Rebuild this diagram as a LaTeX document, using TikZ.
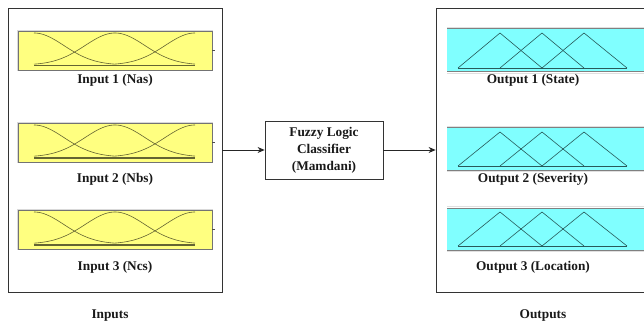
\documentclass[tikz,border=0pt]{standalone}
\usepackage{fontspec}
\setmainfont{Liberation Serif}
\usetikzlibrary{arrows.meta}
\definecolor{ymf}{RGB}{255,255,128}
\definecolor{cmf}{RGB}{128,255,255}
\definecolor{ycurve}{RGB}{100,100,50}
\definecolor{ccurve}{RGB}{40,90,90}
\tikzset{
  x=1pt, y=-1pt,
  frame/.style={draw=black!80, line width=0.8pt, fill=none, inner sep=0pt},
  lbl/.style={font=\fontsize{13.3}{17}\selectfont\bfseries, text=black!90, inner sep=0pt, align=center},
  yellowpanel/.style={fill=ymf, draw=black!55, line width=0.9pt},
  panelshadow/.style={draw=black!15, line width=2.5pt},
  mfy/.style={draw=ycurve, line width=0.6pt},
  mfc/.style={draw=ccurve, line width=0.6pt},
  conn/.style={draw=black!85, line width=0.8pt, -{Stealth[length=7pt,width=6pt]}},
}
\begin{document}
\begin{tikzpicture}
\useasboundingbox (0,0) rectangle (644,323);
\clip (0,0) rectangle (644,323);
\fill[white] (0,0) rectangle (644,323);
% main boxes
\node[frame, minimum width=214pt, minimum height=284pt] (inbox) at (115,150) {};
\node[frame, minimum width=218pt, minimum height=284pt] (outbox) at (545,150) {};
\node[frame, minimum width=118pt, minimum height=58pt, lbl] (fls) at (324,150) {Fuzzy Logic\\Classifier\\(Mamdani)};
% input panels
\foreach \t in {31, 123, 210}{
  \draw[panelshadow] (18,\t) rectangle (212,\t+39);
  \path[yellowpanel] (18,\t) rectangle (212,\t+39);
  \draw[mfy] (34,\t+34) -- (195,\t+34);
  \draw[mfy] (34,\t+34.8) -- (195,\t+34.8);
  \draw[mfy, domain=34:115, samples=40, smooth] plot (\x, {\t+34-32*exp(-((\x-34)^2)/1800)});
  \draw[mfy, domain=34:195, samples=60, smooth] plot (\x, {\t+34-32*exp(-((\x-115)^2)/1800)});
  \draw[mfy, domain=115:195, samples=40, smooth] plot (\x, {\t+34-32*exp(-((\x-195)^2)/1800)});
  \draw[black!70, line width=0.8pt] (212,\t+19) -- (214.5,\t+19);
}
\node[lbl] (in1) at (115,80) {Input 1 (Nas)};
\node[lbl] (in2) at (115,179) {Input 2 (Nbs)};
\node[lbl] (in3) at (115,267) {Input 3 (Ncs)};
% output panels
\foreach \t/\b in {29/72, 128/170, 208/250}{
  \fill[cmf] (447,\t) rectangle (650,\b);
  \draw[black!12, line width=1.5pt] (447,\t-1.5) -- (650,\t-1.5);
  \draw[black!50, line width=1pt] (447,\t) -- (650,\t);
  \draw[black!50, line width=1pt] (447,\b) -- (650,\b);
  \draw[black!12, line width=1.5pt] (447,\b+1.5) -- (650,\b+1.5);
  \draw[mfc] (458,\b-4) -- (627,\b-4);
  \draw[mfc] (458,\b-4) -- (500,\t+4) -- (542,\b-4);
  \draw[mfc] (500,\b-4) -- (542,\t+4) -- (584,\b-4);
  \draw[mfc] (542,\b-4) -- (584,\t+4) -- (627,\b-4);
}
\node[lbl] (out1) at (533,80) {Output 1 (State)};
\node[lbl] (out2) at (533,179) {Output 2 (Severity)};
\node[lbl] (out3) at (533,267) {Output 3 (Location)};
% captions
\node[lbl] (incap) at (110,316) {Inputs};
\node[lbl] (outcap) at (543,316) {Outputs};
% connectors
\draw[conn] (inbox.east) -- (fls.west);
\draw[conn] (fls.east) -- (outbox.west);
\end{tikzpicture}
\end{document}
